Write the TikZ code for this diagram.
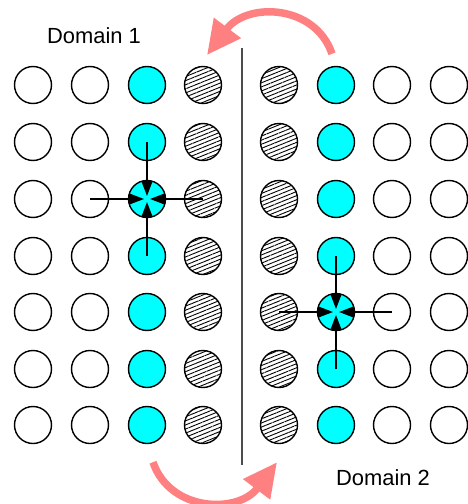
\documentclass[tikz,border=0pt]{standalone}
\usepackage{fontspec}
\setmainfont{Liberation Sans}
\usetikzlibrary{arrows.meta,patterns.meta}
\definecolor{ownedcyan}{HTML}{00FFFF}
\definecolor{swapred}{HTML}{FF8080}
\begin{document}
\begin{tikzpicture}[x=1bp,y=-1bp,every node/.style={font=\fontsize{22}{26}\selectfont},
  cell/.style={circle,draw,line width=1.4bp,minimum size=37bp,inner sep=0pt},
  site/.style={cell,fill=white},
  bnd/.style={cell,fill=ownedcyan},
  halo/.style={cell,pattern={Lines[angle=22,distance=3.8bp,line width=0.9bp]}},
  pull/.style={line width=1.5bp,-{Triangle[length=15bp,width=11bp]},shorten >=3bp},
  swap/.style={line width=7.5bp,swapred,-{Triangle[length=34bp,width=32bp]}}]
\useasboundingbox (0,0) rectangle (468,504);
\foreach \r [count=\i] in {85,142,199,256,312,369,425} {
  \node[site] (L-\i-1) at (33,\r) {};
  \node[site] (L-\i-2) at (90,\r) {};
  \node[bnd] (L-\i-3) at (147,\r) {};
  \node[halo] (L-\i-4) at (203,\r) {};
  \node[halo] (R-\i-1) at (279,\r) {};
  \node[bnd] (R-\i-2) at (336,\r) {};
  \node[site] (R-\i-3) at (392,\r) {};
  \node[site] (R-\i-4) at (449,\r) {};
}
\draw[line width=1.2bp,black!70] (242,48) -- (242,465);
% stencil in domain 1
\draw[pull] (L-2-3.center) -- (L-3-3.center);
\draw[pull] (L-4-3.center) -- (L-3-3.center);
\draw[pull] (L-3-2.center) -- (L-3-3.center);
\draw[pull] (L-3-4.center) -- (L-3-3.center);
% stencil in domain 2
\draw[pull] (R-4-2.center) -- (R-5-2.center);
\draw[pull] (R-6-2.center) -- (R-5-2.center);
\draw[pull] (R-5-1.center) -- (R-5-2.center);
\draw[pull] (R-5-3.center) -- (R-5-2.center);
% halo exchange
\draw[swap] ([shift={(-4bp,12bp)}]R-1-2.north) .. controls (315,4) and (247,2) .. ([shift={(4bp,11bp)}]L-1-4.north);
\draw[swap] ([shift={(6bp,-18bp)}]L-7-3.south) .. controls (170,512) and (238,514) .. ([shift={(-2bp,-18bp)}]R-7-1.south);
\node (dom1) at (94,36) {Domain 1};
\node (dom2) at (383,478) {Domain 2};
\end{tikzpicture}
\end{document}
